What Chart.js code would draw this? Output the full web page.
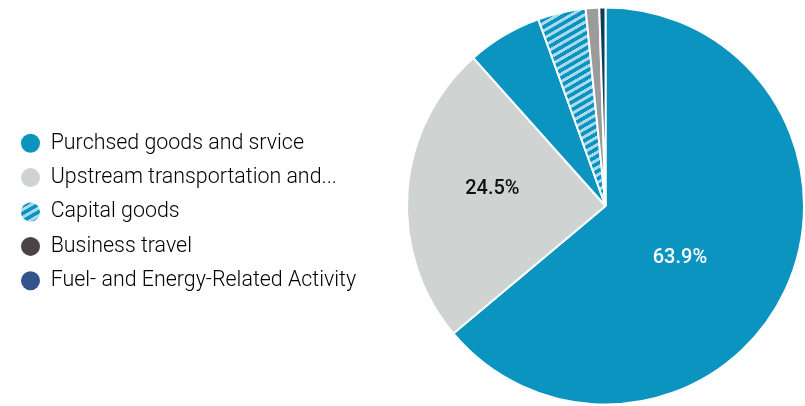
<!DOCTYPE html>
<html>
<head>
<meta charset="utf-8">
<script src="https://cdn.jsdelivr.net/npm/chart.js@4.4.1/dist/chart.umd.min.js"></script>
<style>
  html, body { margin: 0; padding: 0; background: #ffffff; }
  #wrap { position: relative; width: 805px; height: 406px; }
</style>
</head>
<body>
<div id="wrap"><canvas id="c" width="805" height="406"></canvas></div>
<script>
// ---- data ----
const categories = ['Purchsed goods and srvice', 'Upstream transportation and...', 'Other categories', 'Capital goods', 'Business travel', 'Fuel- and Energy-Related Activity'];
const values = [63.9, 24.5, 6.1, 3.9, 1.1, 0.5];
const legendLabels = ['Purchsed goods and srvice', 'Upstream transportation and...', 'Capital goods', 'Business travel', 'Fuel- and Energy-Related Activity'];

// ---- styles ----
const BLUE = '#0b94c0';
const LIGHTGRAY = '#cfd3d2';
const STRIPE = '#a9d9ec';

function makeHatch() {
  const t = document.createElement('canvas');
  t.width = 20; t.height = 20;
  const g = t.getContext('2d');
  g.fillStyle = BLUE; g.fillRect(0, 0, 20, 20);
  g.fillStyle = STRIPE; g.fillRect(0, 0, 20, 9);
  const p = document.getElementById('c').getContext('2d').createPattern(t, 'repeat');
  p.setTransform(new DOMMatrix().rotate(-30).scale(0.33));
  return p;
}
const hatch = makeHatch();
const sliceColors = [BLUE, LIGHTGRAY, BLUE, hatch, '#9b9b9b', '#0e3b58'];
const legendColors = [BLUE, LIGHTGRAY, hatch, '#4a4347', '#34548b'];

const legendFix = {
  id: 'legendFix',
  beforeLayout(chart, args, opts) {
    const lg = chart.legend;
    if (lg && !lg._fixed) {
      const orig = lg.fit;
      lg.fit = function () { orig.call(this); this.width = opts.width; };
      lg._fixed = true;
    }
  },
  afterLayout(chart, args, opts) {
    const lg = chart.legend;
    if (lg) { lg.top += opts.shiftY; lg.bottom += opts.shiftY; }
  }
};

const sliceLabels = {
  id: 'sliceLabels',
  afterDatasetsDraw(chart, args, opts) {
    const ctx = chart.ctx;
    const meta = chart.getDatasetMeta(0);
    const data = chart.data.datasets[0].data;
    ctx.save();
    ctx.font = opts.font;
    ctx.textAlign = 'center';
    ctx.textBaseline = 'middle';
    meta.data.forEach((arc, i) => {
      if (data[i] < opts.minValue) return;
      const p = arc.getProps(['x', 'y', 'startAngle', 'endAngle', 'outerRadius'], true);
      const mid = (p.startAngle + p.endAngle) / 2 + (opts.turn[i] || 0) * Math.PI / 180;
      const r = p.outerRadius * (opts.frac[i] || 0.5);
      ctx.fillStyle = opts.colors[i] || '#000';
      ctx.fillText(data[i].toFixed(1) + '%', p.x + Math.cos(mid) * r, p.y + 1 + Math.sin(mid) * r);
    });
    ctx.restore();
  }
};

new Chart(document.getElementById('c'), {
  type: 'pie',
  data: {
    labels: categories,
    datasets: [{
      data: values,
      backgroundColor: sliceColors,
      borderColor: '#ffffff',
      borderWidth: 2
    }]
  },
  options: {
    responsive: false,
    animation: false,
    layout: { padding: { left: 8, top: 6, bottom: -2, right: -4 } },
    plugins: {
      tooltip: { enabled: false },
      legendFix: { width: 398, shiftY: 5 },
      sliceLabels: {
        font: '500 20px Roboto',
        minValue: 10,
        frac: [0.4535, 0.577],
        turn: [9.2, 4.8],
        colors: ['#ffffff', '#111111']
      },
      legend: {
        position: 'left',
        labels: {
          font: { family: 'Roboto', size: 21.4, weight: '300' },
          color: '#333333',
          usePointStyle: true,
          pointStyle: 'circle',
          pointStyleWidth: 19,
          boxHeight: 13.4,
          padding: 13.0,
          generateLabels() {
            return legendLabels.map((t, i) => ({
              text: t,
              fillStyle: legendColors[i],
              strokeStyle: legendColors[i],
              lineWidth: 0,
              pointStyle: 'circle',
              hidden: false,
              index: i
            }));
          }
        }
      }
    }
  },
  plugins: [legendFix, sliceLabels]
});
</script>
</body>
</html>
